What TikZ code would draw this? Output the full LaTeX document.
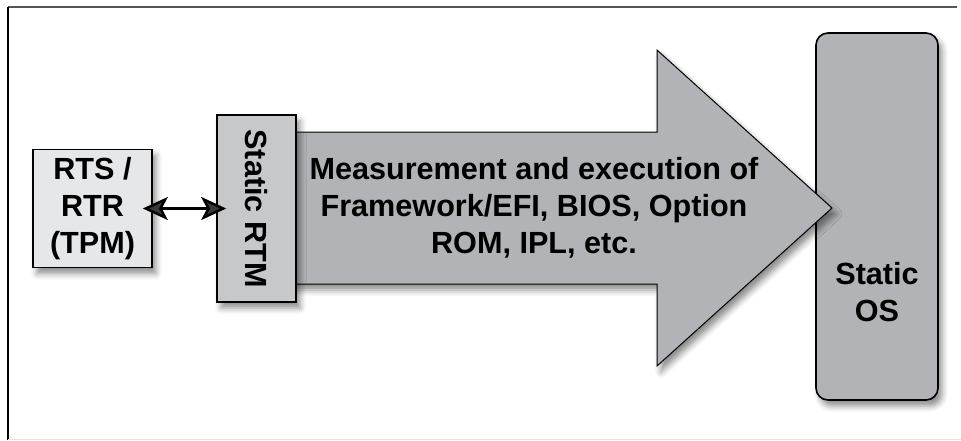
\documentclass[tikz,border=0pt]{standalone}
\usepackage{fontspec}
\setmainfont{Liberation Sans}
\usetikzlibrary{arrows.meta,positioning,shadows.blur,calc}
\definecolor{rtsgray}{HTML}{E6E7E8}
\definecolor{rtmgray}{HTML}{C7C8CA}
\definecolor{flowgray}{HTML}{B1B3B6}
\definecolor{framegray}{HTML}{555555}
\definecolor{edgegray}{HTML}{E4E4E4}

\begin{document}
\begin{tikzpicture}[
  x=1pt,y=-1pt,
  boxfont/.style={font=\bfseries\fontsize{30.6}{37}\selectfont,align=center},
  box/.style={rectangle,draw=black,fill=#1,line width=1.6pt,inner sep=0pt,boxfont,
    blur shadow={shadow xshift=4pt,shadow yshift=-6pt,shadow blur radius=6pt,shadow opacity=45}},
  box/.default={rtsgray},
  link/.style={{Stealth[length=25pt,width=23pt,inset=6pt]}-{Stealth[length=25pt,width=23pt,inset=6pt]},
    line width=2.5pt,shorten <=-10pt,shorten >=-10pt},
]
  \useasboundingbox (0,0) rectangle (961,440);
  % frame
  \draw[framegray,line width=1.5pt] (8,7) -- (957,7);
  \draw[black,line width=1.5pt] (8,7) -- (8,440);
  \draw[edgegray,line width=1pt] (8,439.5) -- (961,439.5);
  % target
  \node[box=flowgray,rounded corners=12pt,minimum width=122pt,minimum height=367pt] (os) at (877,216.5) {};
  \node[boxfont] (oslabel) at (877,292) {Static\\OS};
  % measurement flow
  \path[fill=flowgray,draw=black,line width=1pt,line join=miter,
    blur shadow={shadow xshift=4pt,shadow yshift=-6pt,shadow blur radius=6pt,shadow opacity=45}]
    (262,132) -- (657,132) -- (657,50) -- (832,208) -- (657,366) -- (657,284) -- (262,284) -- cycle;
  \node[boxfont] (meas) at (534,208) {Measurement and execution of\\Framework/EFI, BIOS, Option\\ROM, IPL, etc.};
  % roots of trust
  \node[box=rtmgray,minimum width=79pt,minimum height=187pt] (rtm) at (256.5,208.5) {\rotatebox{-90}{Static RTM}};
  \node[box,minimum width=119pt,minimum height=118pt] (rts) at (92.5,208.5) {RTS /\\RTR\\(TPM)};
  \draw[link] (rts.east) -- (rtm.west);
\end{tikzpicture}
\end{document}
